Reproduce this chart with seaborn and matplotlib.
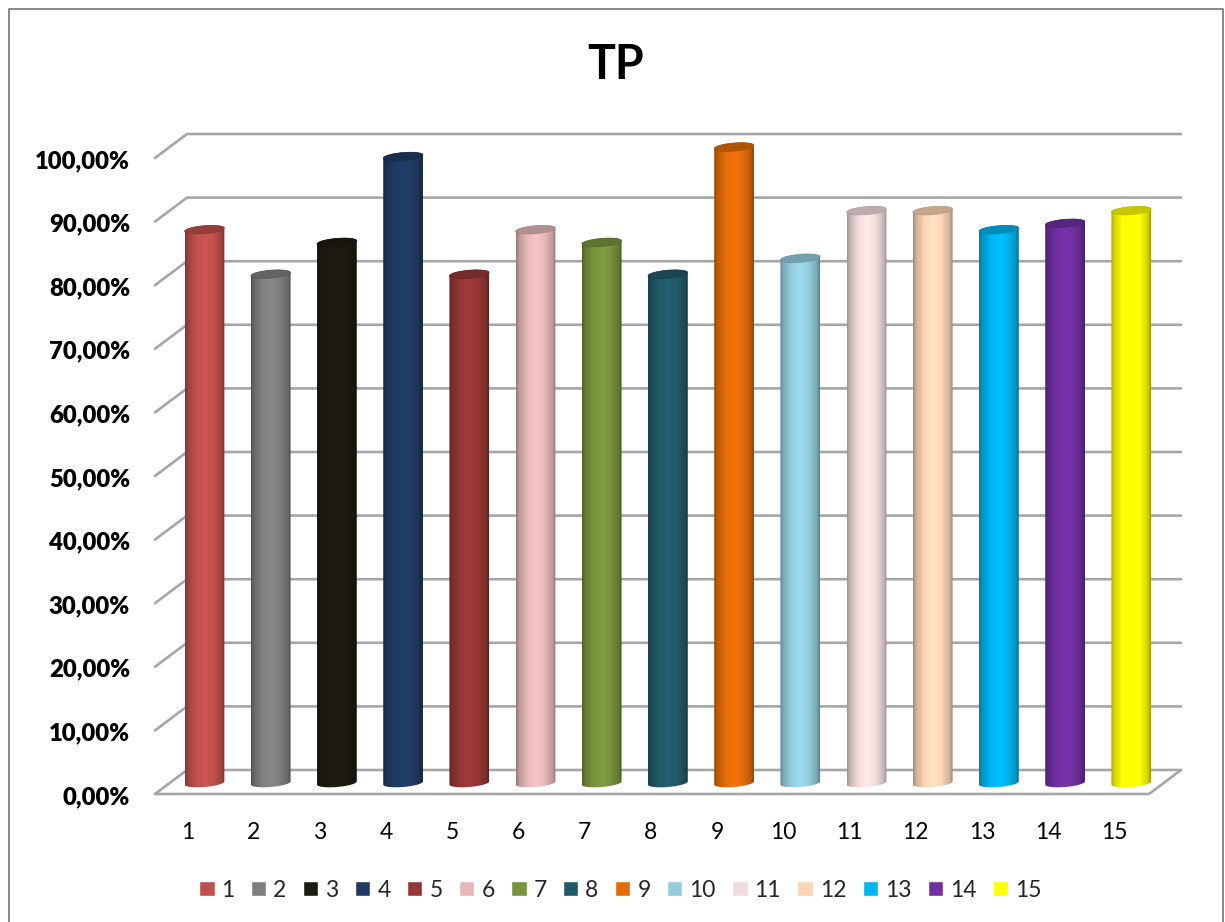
import numpy as np
import pandas as pd
import matplotlib
matplotlib.use("Agg")
import matplotlib.pyplot as plt
from matplotlib.colors import LinearSegmentedColormap, to_rgb
from matplotlib.patches import PathPatch
from matplotlib.path import Path
from matplotlib.transforms import ScaledTranslation
import seaborn as sns

categories = [str(i) for i in range(1, 16)]
values = [87, 80, 85, 98.5, 80, 87, 85, 80, 100, 82.5, 90, 90, 87, 88, 90]
colors = ["#C0504D", "#7F7F7F", "#1D1B10", "#1F3B63", "#953735", "#E6B9B8", "#77933C", "#215968",
          "#E46C0A", "#93CDDD", "#F2DCDB", "#FCD5B5", "#00B4F0", "#7030A0", "#FFFF00"]
ticks = list(range(0, 101, 10))
tick_labels = [f"{t},00%" for t in ticks]

W, H = 1225, 922
sns.set_theme(style="white")
plt.rcParams["font.family"] = ["Lato", "DejaVu Sans"]
fig = plt.figure(figsize=(W / 100, H / 100), dpi=100)
L, R, T, B = 155, 1181, 134, 794
ax = fig.add_axes([L / W, 1 - B / H, (R - L) / W, (B - T) / H])

df = pd.DataFrame({"cat": categories, "val": values})
sns.barplot(df, x="cat", y="val", hue="cat", palette=colors, dodge=False, width=0.6,
            saturation=1, legend=True, ax=ax, zorder=3)

px_x, px_y = 66.2, 6.36  # pixels per data unit
BASE_PX = 783
ax.set_xlabel("")
ax.set_ylabel("")
for s in ax.spines.values():
    s.set_visible(False)
ax.grid(False)
ax.set_xlim((L - 204.5) / px_x, (R - 204.5) / px_x)
ax.set_ylim((BASE_PX - B) / px_y, (BASE_PX - T) / px_y)

front_y = 11 / px_y
back_y = 13 / px_y
depth_x = 16 / px_x
xl, xr = ax.get_xlim()
grid_c = "#A6A6A6"
for t in ticks:
    ax.plot([xl, xl + 2 * depth_x, xr], [t - front_y, t + back_y, t + back_y],
            color=grid_c, lw=1.9, zorder=1, clip_on=False, solid_joinstyle="miter")
ax.plot([xl, xr - 2 * depth_x, xr], [-front_y, -front_y, back_y],
        color=grid_c, lw=1.9, zorder=1, clip_on=False, solid_joinstyle="miter")


def cylinder(patch, color):
    x0, w, h = patch.get_x(), patch.get_width(), patch.get_height()
    cx = x0 + w / 2
    a = w / 2
    b = 4.0 / px_y
    k = 1.6 / px_y
    t = np.linspace(0, np.pi, 60)
    ex = cx - a * np.cos(t)
    low = 0 - b * np.sin(t) - k * np.cos(t)
    back = h + b * np.sin(t) - k * np.cos(t)
    body = np.column_stack([np.r_[ex, ex[::-1]], np.r_[low, back[::-1]]])
    clip = PathPatch(Path(np.vstack([body, body[0]])), transform=ax.transData, fc="none", ec="none")
    ax.add_patch(clip)
    base = np.array(to_rgb(color))
    stops = [(0, 0.66), (0.07, 0.82), (0.28, 1.0), (0.5, 1.07), (0.72, 1.0), (0.93, 0.82), (1, 0.62)]
    cmap = LinearSegmentedColormap.from_list("c", [(s, np.clip(base * f, 0, 1)) for s, f in stops])
    im = ax.imshow(np.linspace(0, 1, 64)[None, :], cmap=cmap, aspect="auto", vmin=0, vmax=1,
                   extent=(x0, x0 + w, -2, h + 2), zorder=4, interpolation="bilinear")
    im.set_clip_path(clip)
    th = np.linspace(0, 2 * np.pi, 80)
    cap = np.column_stack([cx - a * np.cos(th), h + b * np.sin(th) - k * np.cos(th)])
    ax.add_patch(PathPatch(Path(cap), fc=base * 0.78, ec=base * 0.72, lw=0.5, zorder=5))


for cont, color in zip(ax.containers, colors):
    for p in cont:
        p.set_visible(False)
        cylinder(p, color)

ax.set_xlim((L - 204.5) / px_x, (R - 204.5) / px_x)
ax.set_ylim((BASE_PX - B) / px_y, (BASE_PX - T) / px_y)

ax.set_yticks([t - front_y for t in ticks], tick_labels)
ax.tick_params(axis="y", length=0, pad=18, labelsize=17.2, labelcolor="black")
yshift = ScaledTranslation(0, -1 / 100, fig.dpi_scale_trans)
for lab in ax.get_yticklabels():
    lab.set_fontweight("heavy")
    lab.set_transform(lab.get_transform() + yshift)
ax.tick_params(axis="x", length=0, pad=20, labelsize=16.5, labelcolor="black")
shift = ScaledTranslation(-17 / 100, 0, fig.dpi_scale_trans)
for lab in ax.get_xticklabels():
    lab.set_transform(lab.get_transform() + shift)

fig.text(616 / W, 1 - 65 / H, "TP", ha="center", va="center", fontsize=33.5, fontweight="bold", color="black")

sns.move_legend(ax, "center", bbox_to_anchor=(620.5 / W, 1 - 890 / H), bbox_transform=fig.transFigure,
                ncol=15, frameon=False, title=None, fontsize=16.5, handlelength=0.67, handleheight=0.67,
                handletextpad=0.3, columnspacing=0.72, borderpad=0)

fig.add_artist(plt.Line2D([8.5 / W, 8.5 / W, 1223 / W, 1223 / W], [0, 1 - 9 / H, 1 - 9 / H, 0],
                          color="#8A8A8A", lw=1.4, transform=fig.transFigure))
fig.savefig("out.png", dpi=100)
